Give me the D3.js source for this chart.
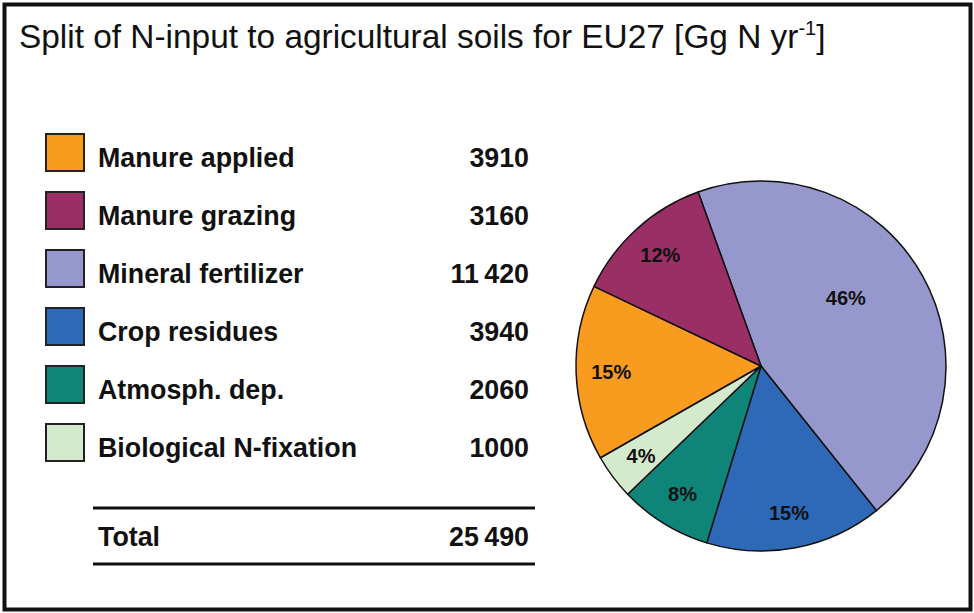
<!DOCTYPE html>
<html>
<head>
<meta charset="utf-8">
<script src="https://cdn.jsdelivr.net/npm/d3@7"></script>
<style>
  body { margin: 0; background: #fff; }
  svg { display: block; font-family: "Liberation Sans", Arial, sans-serif; }
</style>
</head>
<body>
<div id="chart"></div>
<script>
/* DATA */
const categories = ["Manure applied", "Manure grazing", "Mineral fertilizer", "Crop residues", "Atmosph. dep.", "Biological N-fixation"];
const values = [3910, 3160, 11420, 3940, 2060, 1000];
const pctLabels = ["15%", "12%", "46%", "15%", "8%", "4%"]; // as printed on the pie
const colors = ["#f99b1e", "#9a2f65", "#9597cd", "#2e69b8", "#0f8579", "#d3ebcc"];
const pieOrder = ["Mineral fertilizer", "Crop residues", "Atmosph. dep.", "Biological N-fixation", "Manure applied", "Manure grazing"];

/* SETUP */
const width = 974, height = 613;
const svg = d3.select("#chart").append("svg")
  .attr("width", width)
  .attr("height", height);

// frame
svg.append("rect")
  .attr("x", 4.5).attr("y", 4.5)
  .attr("width", 966).attr("height", 605)
  .attr("fill", "none").attr("stroke", "#111").attr("stroke-width", 4);

// title with superscript
const title = svg.append("text")
  .attr("x", 19).attr("y", 48)
  .attr("font-size", 33.4)
  .attr("fill", "#111")
  .text("Split of N-input to agricultural soils for EU27 [Gg N yr");
title.append("tspan").attr("dy", -13).attr("font-size", 20).text("-1");
title.append("tspan").attr("dy", 13).text("]");

// number formatting: thin space grouping for 5-digit numbers
const fmt = n => n >= 10000 ? d3.format(",")(n).replace(",", "\u2009") : String(n);
const color = d3.scaleOrdinal().domain(categories).range(colors);

/* LEGEND TABLE */
const rowY = d3.scalePoint().domain(categories).range([133, 423]);
const legend = svg.append("g");
const rows = legend.selectAll("g.row")
  .data(categories)
  .join("g")
  .attr("class", "row")
  .attr("transform", d => `translate(0,${rowY(d)})`);

rows.append("rect")
  .attr("x", 46).attr("y", 1)
  .attr("width", 38).attr("height", 37)
  .attr("fill", d => color(d))
  .attr("stroke", "#222").attr("stroke-width", 2);

rows.append("text")
  .attr("x", 98).attr("y", 34)
  .attr("font-size", 26.8).attr("font-weight", "bold").attr("fill", "#111")
  .text(d => d);

rows.append("text")
  .attr("x", 529).attr("y", 34)
  .attr("text-anchor", "end")
  .attr("font-size", 26.8).attr("font-weight", "bold").attr("fill", "#111")
  .text((d, i) => fmt(values[i]));

// total
const total = d3.sum(values);
legend.selectAll("line.rule")
  .data([508, 564])
  .join("line")
  .attr("x1", 93).attr("x2", 535)
  .attr("y1", d => d).attr("y2", d => d)
  .attr("stroke", "#111").attr("stroke-width", 3);

legend.append("text")
  .attr("x", 98).attr("y", 546)
  .attr("font-size", 26.8).attr("font-weight", "bold").attr("fill", "#111")
  .text("Total");
legend.append("text")
  .attr("x", 529).attr("y", 546)
  .attr("text-anchor", "end")
  .attr("font-size", 26.8).attr("font-weight", "bold").attr("fill", "#111")
  .text(fmt(total));

/* PIE */
const cx = 761, cy = 366, r = 185;
const start = -0.347;
const pieData = pieOrder.map(name => {
  const i = categories.indexOf(name);
  return {name: name, value: values[i], label: pctLabels[i]};
});

const pie = d3.pie()
  .value(d => d.value)
  .sort(null)
  .startAngle(start)
  .endAngle(start + 2 * Math.PI);

const arc = d3.arc().innerRadius(0).outerRadius(r);
const arcs = pie(pieData);

const g = svg.append("g").attr("transform", `translate(${cx},${cy})`);

g.selectAll("path")
  .data(arcs)
  .join("path")
  .attr("d", arc)
  .attr("fill", d => color(d.data.name))
  .attr("stroke", "#111").attr("stroke-width", 1.5)
  .attr("stroke-linejoin", "round");

// labels sit further out on small slices, closer in on the big one
const labelPos = d => {
  const big = (d.endAngle - d.startAngle) > Math.PI * 0.6;
  const lr = big ? r * 0.6 : r * 0.81;
  const [x, y] = d3.arc().innerRadius(lr).outerRadius(lr).centroid(d);
  return big ? [x - 12, y - 14] : [x, y];
};

g.selectAll("text")
  .data(arcs)
  .join("text")
  .attr("x", d => labelPos(d)[0])
  .attr("y", d => labelPos(d)[1])
  .attr("dy", "0.35em")
  .attr("text-anchor", "middle")
  .attr("font-size", 20).attr("font-weight", "bold").attr("fill", "#111")
  .text(d => d.data.label);
</script>
</body>
</html>
